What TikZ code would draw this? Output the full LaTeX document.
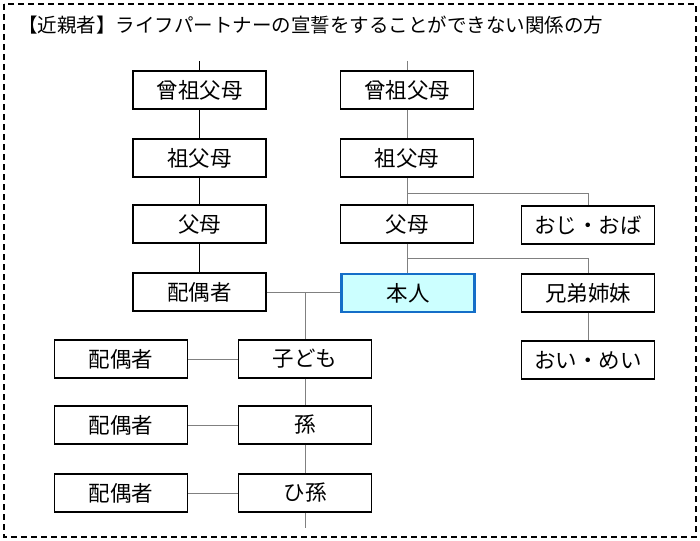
\documentclass[tikz,border=0pt]{standalone}
\usepackage{fontspec}
\newfontfamily\jp{Noto Sans CJK JP}
\begin{document}
\begin{tikzpicture}[x=1pt,y=-1pt,
  box/.style={draw=black, line width=1.4pt, fill=white, minimum width=133pt, minimum height=38pt, inner sep=0pt, font=\jp\fontsize{21.5}{22}\selectfont},
  self/.style={box, draw={rgb,255:red,20;green,110;blue,200}, line width=2.6pt, fill={rgb,255:red,204;green,255;blue,255}},
  blk/.style={draw=black, line width=1.2pt},
  gry/.style={draw={rgb,255:red,128;green,128;blue,128}, line width=1pt}]
\useasboundingbox (0,0) rectangle (700,540);
\draw[dashed, line width=1.2pt, dash pattern=on 6pt off 4pt] (4,4) rectangle (696,537);
\node[anchor=west, inner sep=0pt, font=\jp\fontsize{19.5}{20}\selectfont] (title) at (18,25) {【近親者】ライフパートナーの宣誓をすることができない関係の方};
% left column
\node[box] (lsgf) at (199.5,90) {曾祖父母};
\node[box] (lgf) at (199.5,158) {祖父母};
\node[box] (lp) at (199.5,224) {父母};
\node[box] (lsp) at (199.5,292) {配偶者};
% right column
\node[box] (rsgf) at (407,90) {曾祖父母};
\node[box] (rgf) at (407,158) {祖父母};
\node[box] (rp) at (407,224) {父母};
\node[self] (me) at (408,293) {本人};
\node[box] (oji) at (588,225) {おじ・おば};
\node[box] (sib) at (588,293) {兄弟姉妹};
\node[box] (oi) at (588,360) {おい・めい};
% descendants
\node[box] (ch) at (305,359) {子ども};
\node[box] (gc) at (305,425) {孫};
\node[box] (ggc) at (305,493) {ひ孫};
\node[box] (sp1) at (121,359) {配偶者};
\node[box] (sp2) at (121,425) {配偶者};
\node[box] (sp3) at (121,493) {配偶者};
% coordinates
\coordinate (ltop) at (199.5,61);
\coordinate (rtop) at (407,61);
\coordinate (b1) at (407,193);
\coordinate (b2) at (407,258);
\coordinate (j) at (305,292);
\coordinate (tail) at (305,528);
% connectors
\draw[blk] (ltop) -- (lsgf.north);
\draw[blk] (lsgf.south) -- (lgf.north);
\draw[blk] (lgf.south) -- (lp.north);
\draw[blk] (lp.south) -- (lsp.north);
\draw[gry] (rtop) -- (rsgf.north);
\draw[gry] (rsgf.south) -- (rgf.north);
\draw[gry] (rgf.south) -- (rp.north);
\draw[gry] (b1) -| (oji.north);
\draw[gry] (rp.south) -- (rp.south |- me.north);
\draw[gry] (b2) -| (sib.north);
\draw[gry] (sib.south) -- (oi.north);
\draw[gry] (lsp.east |- j) -- (me.west |- j);
\draw[gry] (j) -- (ch.north);
\draw[gry] (ch.south) -- (gc.north);
\draw[gry] (gc.south) -- (ggc.north);
\draw[gry] (ggc.south) -- (tail);
\draw[gry] (sp1.east) -- (ch.west);
\draw[gry] (sp2.east) -- (gc.west);
\draw[gry] (sp3.east) -- (ggc.west);
\end{tikzpicture}
\end{document}
